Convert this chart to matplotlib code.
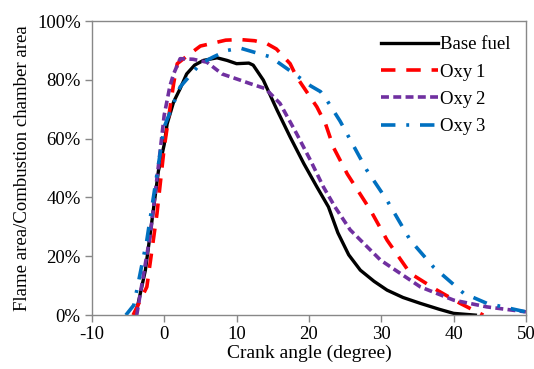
import numpy as np
import matplotlib.pyplot as plt

plt.rcParams['font.family'] = ['Liberation Serif', 'DejaVu Serif']
plt.rcParams['axes.unicode_minus'] = False

# Base fuel
base_x = [-4.0, -3.6, -2.6, -1.7, -0.8, 0.0, 0.4, 1.3, 2.2, 3.1, 4.2, 5.4, 7.3, 8.7, 10.0, 11.7, 12.3,
          13.7, 15.6, 17.4, 19.3, 21.1, 22.7, 24.0, 25.5, 27.1, 29.0, 30.8, 33.0, 35.4, 38.0, 40.0, 43.0]
base_y = [0.0, 4.0, 15.3, 32.0, 49.0, 58.0, 65.0, 72.5, 77.0, 82.0, 85.0, 86.6, 87.5, 86.6, 85.5, 85.7, 85.0,
          79.9, 69.7, 60.6, 51.5, 43.6, 36.8, 28.0, 20.5, 15.3, 11.5, 8.5, 6.0, 4.0, 2.0, 0.6, 0.0]

# Oxy 1
oxy1_x = [-4.3, -2.4, -1.0, 0.0, 1.3, 1.8, 3.1, 5.0, 6.8, 8.5, 10.5, 12.5, 14.2, 15.5,
          17.4, 18.3, 21.1, 22.3, 23.4, 25.3, 28.5, 30.8, 34.0, 37.7, 40.9, 44.1]
oxy1_y = [0.0, 9.6, 34.5, 57.0, 78.7, 85.5, 88.0, 91.5, 92.5, 93.5, 93.7, 93.3, 92.3, 90.5,
          85.5, 81.0, 70.8, 65.0, 57.0, 48.0, 35.7, 25.5, 14.2, 8.5, 4.0, 0.0]

# Oxy 2
oxy2_x = [-3.8, -1.9, -0.55, 0.0, 0.8, 1.3, 2.2, 4.0, 5.9, 8.0, 10.5, 11.9, 14.0, 16.0, 18.3,
          20.2, 22.0, 23.6, 25.7, 29.9, 35.4, 40.0, 44.6, 50.0]
oxy2_y = [0.0, 27.8, 56.0, 68.0, 78.0, 82.0, 87.2, 87.0, 86.0, 82.0, 79.9, 78.7, 77.0, 72.0, 61.7,
          52.7, 43.6, 36.8, 29.0, 18.7, 9.6, 5.1, 2.8, 1.1]

# Oxy 3
oxy3_x = [-5.3, -4.2, -2.4, 0.0, 2.2, 5.0, 6.8, 8.7, 10.5, 12.3, 14.7, 16.0, 18.3,
          20.2, 21.6, 22.5, 24.3, 28.0, 30.8, 34.0, 37.2, 41.4, 44.6, 50.0]
oxy3_y = [0.0, 3.4, 25.5, 64.0, 77.6, 85.5, 87.8, 90.0, 90.8, 89.5, 87.8, 85.5, 81.5,
          78.0, 76.0, 73.0, 66.0, 49.3, 39.0, 25.5, 16.4, 7.4, 4.0, 1.1]

fig = plt.figure(figsize=(5.34, 3.69), dpi=100)
ax = fig.add_axes([0.172, 0.146, 0.813, 0.797])

ax.plot(base_x, base_y, color='black', lw=2.4, label='Base fuel')
ax.plot(oxy1_x, oxy1_y, color='#ff0000', lw=2.6, dashes=(4, 3), label='Oxy\u20091')
ax.plot(oxy2_x, oxy2_y, color='#7030a0', lw=2.6, dashes=(2.2, 1.2), label='Oxy\u20092')
ax.plot(oxy3_x, oxy3_y, color='#0070c0', lw=2.6, dashes=(4, 3, 0.8, 3), label='Oxy\u20093')

ax.set_xlim(-10, 50)
ax.set_ylim(0, 100)
ax.set_xticks(np.arange(-10, 51, 10))
ax.set_yticks(np.arange(0, 101, 20))
ax.set_yticklabels([f'{v}%' for v in range(0, 101, 20)])
ax.tick_params(direction='out', length=5, width=1, color='#888888', labelsize=13.5, pad=3)
for s in ax.spines.values():
    s.set_color('#888888')
    s.set_linewidth(1.0)

ax.set_xlabel('Crank angle (degree)', fontsize=14, labelpad=1)
ax.set_ylabel('Flame area/Combustion chamber area', fontsize=13.5, labelpad=4)

leg = ax.legend(loc='upper right', frameon=False, fontsize=13.5, handlelength=3.0,
                handletextpad=0.15, labelspacing=0.55, borderaxespad=0.4)

fig.savefig('out.png', dpi=100)
